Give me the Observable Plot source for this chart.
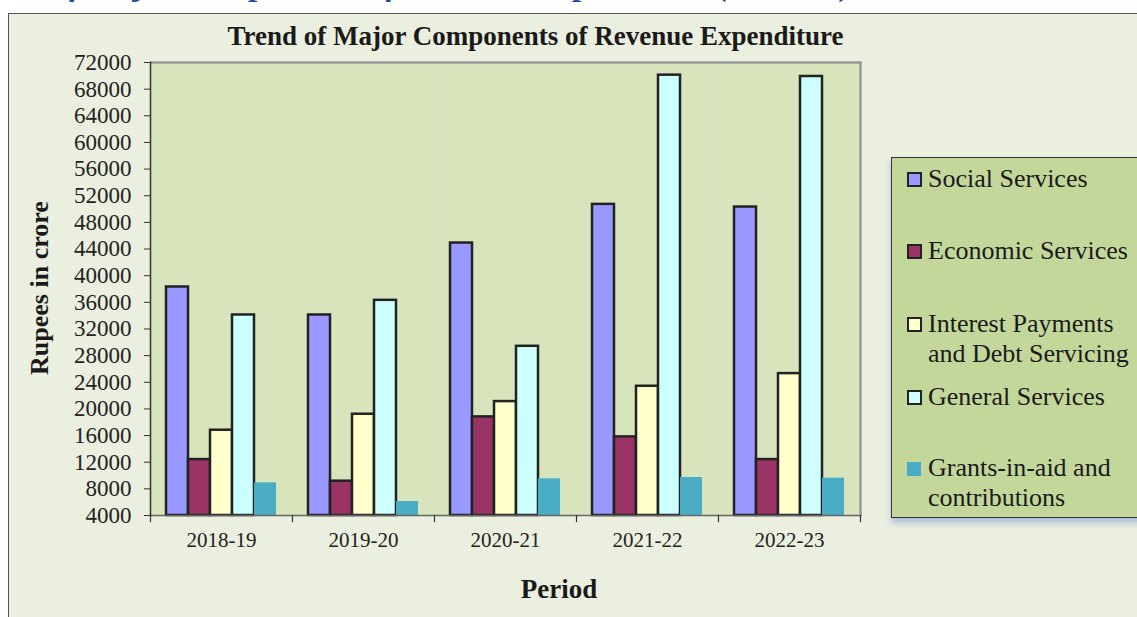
<!DOCTYPE html>
<html>
<head>
<meta charset="utf-8">
<script src="https://cdn.jsdelivr.net/npm/d3@7"></script>
<script src="https://cdn.jsdelivr.net/npm/@observablehq/plot@0.6"></script>
<style>
  html, body { margin: 0; padding: 0; background: #ffffff; }
  body { width: 1137px; height: 617px; position: relative; overflow: hidden; font-family: "Liberation Serif", "Times New Roman", serif; }
  #strip { position: absolute; left: 0; top: 0; width: 1137px; height: 13px; overflow: hidden; }
  #strip span { position: absolute; left: -40px; top: -33px; font: italic bold 34px/34px "Liberation Serif", serif; color: #1f4e96; white-space: nowrap; }
  #box { position: absolute; left: 8px; top: 13px; width: 1140px; height: 620px; background: #ebefdf; border-left: 1.5px solid #555; border-top: 1.5px solid #555; }
  #chart { position: absolute; left: 0; top: 0; }
  #title { position: absolute; left: 0; width: 1071px; text-align: center; top: 21px; font: bold 27px "Liberation Serif", serif; color: #1a1a1a; }
  #ylabel { position: absolute; left: 40px; top: 288px; transform: translate(-50%, -50%) rotate(-90deg); font: bold 26px "Liberation Serif", serif; color: #1a1a1a; white-space: nowrap; }
  #xlabel { position: absolute; left: 559px; top: 574px; transform: translateX(-50%); font: bold 27px "Liberation Serif", serif; color: #1a1a1a; }
  #legend { position: absolute; left: 891px; top: 157px; width: 260px; height: 359px; background: #c4d79b; border: 1.5px solid #333; box-shadow: 0 5px 6px rgba(120,150,220,0.55); }
  .item { position: absolute; left: 36px; font: 26px/30px "Liberation Serif", serif; color: #1a1a1a; white-space: nowrap; }
  .sw { position: absolute; left: -21px; top: 8px; width: 11px; height: 11px; border: 2px solid #222; }
</style>
</head>
<body>
<div id="strip"><span>Trend of Major Components of Revenue Expenditure (2018-23)</span></div>
<div id="box"></div>
<div id="chart"></div>
<div id="title">Trend of Major Components of Revenue Expenditure</div>
<div id="ylabel">Rupees in crore</div>
<div id="xlabel">Period</div>
<div id="legend"></div>
<script>
// ---- data ----
const periods = ["2018-19", "2019-20", "2020-21", "2021-22", "2022-23"];
const components = ["Social Services", "Economic Services", "Interest Payments and Debt Servicing", "General Services", "Grants-in-aid and contributions"];
const legendLines = [["Social Services"], ["Economic Services"], ["Interest Payments", "and Debt Servicing"], ["General Services"], ["Grants-in-aid and", "contributions"]];
const socialServices   = [38300, 34100, 44900, 50700, 50300];
const economicServices = [12400,  9150, 18800, 15800, 12400];
const interestPayments = [16800, 19200, 21100, 23400, 25300];
const generalServices  = [34100, 36300, 29400, 70100, 69900];
const grantsInAid      = [ 8900,  6100,  9500,  9700,  9600];
const yTicks = [4000, 8000, 12000, 16000, 20000, 24000, 28000, 32000, 36000, 40000, 44000, 48000, 52000, 56000, 60000, 64000, 68000, 72000];
const colors = ["#9999ff", "#993366", "#ffffcc", "#ccffff", "#4bacc6"];

const series = [socialServices, economicServices, interestPayments, generalServices, grantsInAid];
const rows = [];
periods.forEach((p, i) => series.forEach((s, j) => rows.push({period: p, component: components[j], value: s[i], color: colors[j]})));
const outlined = rows.filter(d => d.component !== components[4]);
const plain = rows.filter(d => d.component === components[4]);

const W = 1137, H = 617;
const mL = 148, mR = 275, mT = 62, mB = 102;
const innerH = H - mT - mB;

const chart = Plot.plot({
  width: W, height: H,
  marginLeft: mL, marginRight: mR, marginTop: mT, marginBottom: mB,
  style: {fontFamily: "Liberation Serif, serif", color: "#222", background: "transparent", overflow: "visible"},
  fx: {domain: periods, padding: 0, label: null},
  x: {domain: components, paddingInner: 0, paddingOuter: 0.72, axis: null},
  y: {domain: [yTicks[0], yTicks[yTicks.length - 1]], label: null},
  marks: [
    Plot.frame({fill: "#d8e4bc", stroke: "none"}),
    Plot.barY(outlined, {fx: "period", x: "component", y1: yTicks[0], y2: "value", fill: "color", stroke: "#222", strokeWidth: 2.5}),
    Plot.barY(plain, {fx: "period", x: "component", y1: yTicks[0], y2: "value", fill: "color"}),
    Plot.ruleY([yTicks[yTicks.length - 1]], {stroke: "#9a9a9a", strokeWidth: 2.5}),
    Plot.ruleY([yTicks[0]], {stroke: "#666", strokeWidth: 1.5}),
    Plot.frame({anchor: "right", facetAnchor: "right", stroke: "#9a9a9a", strokeWidth: 2.5}),
    Plot.frame({anchor: "left", facetAnchor: "left", stroke: "#333", strokeWidth: 1.5}),
    Plot.frame({anchor: "left", insetTop: innerH, insetBottom: -6, stroke: "#333", strokeWidth: 1.2}),
    Plot.frame({anchor: "right", facetAnchor: "right", insetTop: innerH, insetBottom: -6, stroke: "#333", strokeWidth: 1.2}),
    Plot.axisY({ticks: yTicks, tickFormat: d3.format("d"), tickSize: 6, tickPadding: 13, fontSize: 23, stroke: "#333"}),
    Plot.axisFx({anchor: "bottom", tickSize: 0, tickPadding: 17, fontSize: 21})
  ]
});
document.getElementById("chart").appendChild(chart);

// legend
const legend = document.getElementById("legend");
const tops = [6, 78, 151, 224, 295];
legendLines.forEach((lines, j) => {
  const el = document.createElement("div");
  el.className = "item";
  el.style.top = tops[j] + "px";
  el.innerHTML = lines.join("<br>");
  const sw = document.createElement("div");
  sw.className = "sw";
  sw.style.background = colors[j];
  if (j === 4) { sw.style.border = "none"; sw.style.width = "14px"; sw.style.height = "14px"; sw.style.top = "9px"; }
  el.appendChild(sw);
  legend.appendChild(el);
});
</script>
</body>
</html>
